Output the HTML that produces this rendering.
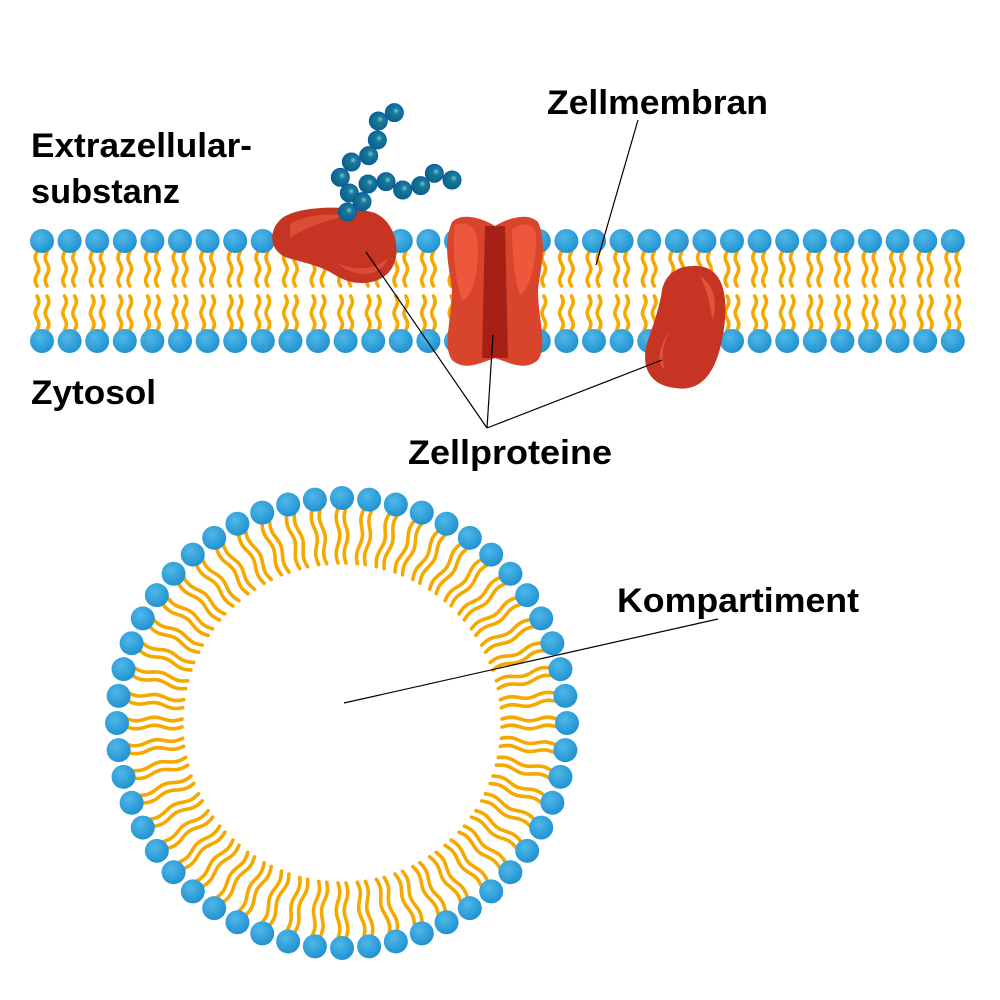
<!DOCTYPE html>
<html><head><meta charset="utf-8"><style>
html,body{margin:0;padding:0;background:#fff;width:1000px;height:1000px;overflow:hidden}
svg{display:block}
text{font-family:"Liberation Sans",sans-serif;font-weight:bold;fill:#000}
</style></head><body>
<svg id="s" width="1000" height="1000" viewBox="0 0 1000 1000" xmlns="http://www.w3.org/2000/svg">
<defs>
<radialGradient id="hg" cx="0.4" cy="0.35" r="0.7"><stop offset="0" stop-color="#4fb8e8"/><stop offset="1" stop-color="#1e8fcf"/></radialGradient>
<radialGradient id="bg" cx="0.6" cy="0.4" r="0.6"><stop offset="0" stop-color="#7fc4cf"/><stop offset="0.3" stop-color="#157a9c"/><stop offset="1" stop-color="#0d6288"/></radialGradient>
</defs>
<g id="tails" fill="none" stroke="#f5a800" stroke-width="3.6" stroke-linecap="round"></g>
<g id="heads"></g>
<!-- proteins -->
<path d="M280 220 C295 205 350 205 375 213 C395 222 402 250 392 268 C382 285 355 288 335 275 C320 265 300 262 285 257 C270 250 268 232 280 220 Z" fill="#c63523"/>
<path d="M290 224 C305 214 335 213 348 216 C325 220 305 228 290 238 Z" fill="#e0553a" opacity="0.8"/>
<path d="M335 262 C355 272 375 270 388 258 C383 274 360 282 335 262 Z" fill="#e0553a" opacity="0.8"/>
<path d="M452 222 C462 212 482 218 495 226 C508 218 528 212 538 222 C548 245 540 270 538 290 C538 320 548 345 538 360 C525 372 508 362 495 358 C482 362 465 372 452 360 C442 345 452 320 452 290 C450 270 442 245 452 222 Z" fill="#d8442c"/>
<path d="M485 226 L505 226 L508 358 L482 358 Z" fill="#a52115"/>
<path d="M455 225 C470 220 478 228 478 250 C478 280 470 300 462 300 C455 280 452 250 455 225 Z" fill="#f05a3e" opacity="0.9"/>
<path d="M512 230 C520 222 535 222 536 235 C537 260 530 290 520 295 C514 280 512 250 512 230 Z" fill="#f05a3e" opacity="0.9"/>
<path d="M698 266 C725 268 730 300 722 340 C715 375 700 392 675 388 C648 385 640 365 648 340 C655 320 660 305 662 290 C666 272 680 265 698 266 Z" fill="#c63523"/>
<path d="M700 276 C715 285 718 305 712 320 C710 300 706 288 700 276 Z" fill="#e0553a"/>
<path d="M670 330 C660 345 655 362 665 370 C660 355 664 342 670 330 Z" fill="#e0553a"/>
<g id="beads"></g>
<g stroke="#000" stroke-width="1.2" fill="none">
<line x1="638" y1="120" x2="596" y2="265"/>
<line x1="487" y1="428" x2="366" y2="252"/>
<line x1="487" y1="428" x2="493" y2="335"/>
<line x1="487" y1="428" x2="662" y2="360"/>
<line x1="718" y1="619" x2="344" y2="703"/>
</g>
<text x="547" y="114" font-size="34" textLength="221" lengthAdjust="spacingAndGlyphs">Zellmembran</text>
<text x="31" y="157" font-size="34" textLength="221" lengthAdjust="spacingAndGlyphs">Extrazellular-</text>
<text x="31" y="203" font-size="34" textLength="149" lengthAdjust="spacingAndGlyphs">substanz</text>
<text x="31" y="404" font-size="34" textLength="125" lengthAdjust="spacingAndGlyphs">Zytosol</text>
<text x="408" y="464" font-size="34" textLength="204" lengthAdjust="spacingAndGlyphs">Zellproteine</text>
<text x="617" y="612" font-size="34" textLength="242" lengthAdjust="spacingAndGlyphs">Kompartiment</text>
</svg>
<script>
var NS="http://www.w3.org/2000/svg",T=document.getElementById('tails'),H=document.getElementById('heads'),B=document.getElementById('beads');
function el(p,n,a){var e=document.createElementNS(NS,n);for(var k in a)e.setAttribute(k,a[k]);p.appendChild(e);return e;}
function wavy(x,y,ux,uy,len,waves){var px=-uy,py=ux,d="M"+(x).toFixed(1)+" "+(y).toFixed(1),n=16;for(var i=1;i<=n;i++){var t=i/n*len,w=Math.sin(i/n*Math.PI*2*waves)*1.8;d+=" L"+(x+ux*t+px*w).toFixed(1)+" "+(y+uy*t+py*w).toFixed(1);}el(T,'path',{d:d});}
function head(x,y,r){el(H,'circle',{cx:x,cy:y,r:r,fill:'url(#hg)'});}
for(var i=0;i<34;i++){var x=42+i*27.6;
 wavy(x-5,252,0,1,34,1.5);wavy(x+5,252,0,1,34,1.5);
 wavy(x-5,330,0,-1,34,1.5);wavy(x+5,330,0,-1,34,1.5);
 head(x,241,12);head(x,341,12);}
var cx=342,cy=723,R=225,N=52;
for(var i=0;i<N;i++){var a=i/N*2*Math.PI-Math.PI/2,ux=Math.cos(a),uy=Math.sin(a);
 var hx=cx+R*ux,hy=cy+R*uy,px=-uy,py=ux;
 wavy(hx-ux*10+px*4,hy-uy*10+py*4,-ux,-uy,55,1.5);wavy(hx-ux*10-px*4,hy-uy*10-py*4,-ux,-uy,55,1.5);}
for(var i=0;i<N;i++){var a=i/N*2*Math.PI-Math.PI/2;head(cx+R*Math.cos(a),cy+R*Math.sin(a),12);}
var bz=[[403,68],[355,93],[352,150],[326,197],[274,216],[241,262],[268,309],[306,335],[262,366],[324,282],[378,275],[428,300],[482,287],[523,250],[576,270]];
bz.forEach(function(p){el(B,'circle',{cx:260+p[0]/3,cy:90+p[1]/3,r:9,fill:'url(#bg)',stroke:'#0a5aa8','stroke-width':1});});
</script>
</body></html>
